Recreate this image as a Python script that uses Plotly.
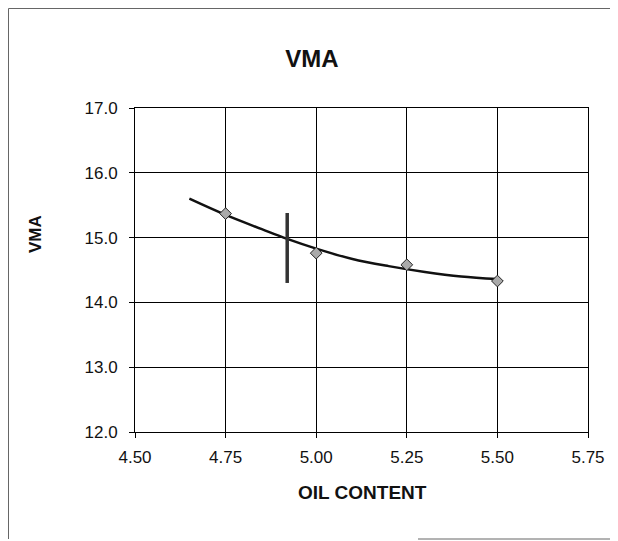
import plotly.graph_objects as go

# Measured data points
oil_content = [4.75, 5.00, 5.25, 5.50]
vma_values = [15.37, 14.76, 14.58, 14.33]

# Trend line
trend_x = [4.65, 4.75, 4.85, 4.92, 5.00, 5.10, 5.20, 5.30, 5.40, 5.50]
trend_y = [15.60, 15.35, 15.13, 14.98, 14.83, 14.67, 14.56, 14.47, 14.40, 14.36]

# Vertical marker line at optimum oil content
marker_x = [4.92, 4.92]
marker_y = [14.30, 15.38]

x_ticks = [4.50, 4.75, 5.00, 5.25, 5.50, 5.75]
y_ticks = [12.0, 13.0, 14.0, 15.0, 16.0, 17.0]

font_family = "Liberation Sans, Arial, sans-serif"
ink = "#111111"

fig = go.Figure()

fig.add_trace(go.Scatter(
    x=trend_x, y=trend_y, mode="lines",
    line=dict(color=ink, width=2.5, shape="spline"),
    hoverinfo="skip", showlegend=False,
))

fig.add_trace(go.Scatter(
    x=marker_x, y=marker_y, mode="lines",
    line=dict(color="#333333", width=3.5),
    showlegend=False,
))

fig.add_trace(go.Scatter(
    x=oil_content, y=vma_values, mode="markers",
    marker=dict(symbol="diamond", size=9, color="#aaaaaa",
                line=dict(color="#222222", width=1)),
    showlegend=False,
))

axis_common = dict(
    showgrid=True, gridcolor="#000000", gridwidth=1,
    showline=True, linecolor="#000000", linewidth=1, mirror=True,
    ticks="outside", ticklen=5, tickcolor="#000000",
    tickfont=dict(family=font_family, size=17, color=ink),
    zeroline=False,
)

fig.update_xaxes(
    range=[4.50, 5.75], tickvals=x_ticks,
    ticktext=[f"{v:.2f}" for v in x_ticks],
    ticklabelstandoff=5,
    **axis_common,
)
fig.update_yaxes(
    range=[12.0, 17.0], tickvals=y_ticks,
    ticktext=[f"{v:.1f}" for v in y_ticks],
    ticklabelstandoff=8,
    **axis_common,
)

# page body adds an 8px offset; layout below is in figure coordinates
L, T, W, H = 127, 100, 453, 324


def px(fx):
    return (fx - L) / W


def py(fy):
    return (T + H - fy) / H


border = dict(color="#666666", width=1)

fig.update_layout(
    width=618, height=541,
    margin=dict(l=L, r=618 - L - W, t=T, b=541 - T - H),
    paper_bgcolor="white", plot_bgcolor="white",
    title=dict(text="<b>VMA</b>", x=304 / 618, xanchor="center",
               xref="container",
               y=1 - 51 / 541, yanchor="middle", yref="container",
               font=dict(family=font_family, size=24, color=ink)),
    annotations=[
        dict(text="<b>OIL CONTENT</b>", xref="paper", yref="paper",
             x=px(354), y=py(484), xanchor="center", yanchor="middle",
             showarrow=False,
             font=dict(family=font_family, size=19, color=ink)),
        dict(text="<b>VMA</b>", xref="paper", yref="paper",
             x=px(27), y=py(226), xanchor="center", yanchor="middle",
             textangle=-90, showarrow=False,
             font=dict(family=font_family, size=17, color=ink)),
    ],
    shapes=[
        dict(type="line", xref="paper", yref="paper",
             x0=px(0.5), x1=px(0.5), y0=py(0.5), y1=py(531), line=border),
        dict(type="line", xref="paper", yref="paper",
             x0=px(0.5), x1=px(604), y0=py(0.5), y1=py(0.5), line=border),
        dict(type="line", xref="paper", yref="paper",
             x0=px(604), x1=px(604), y0=py(0.5), y1=py(531), line=border),
        dict(type="line", xref="paper", yref="paper",
             x0=px(410), x1=px(604), y0=py(531), y1=py(531), line=border),
    ],
)

fig.write_html("out.html")
